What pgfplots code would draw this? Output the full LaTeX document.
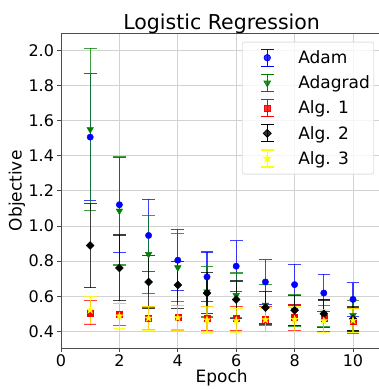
\documentclass[border=0pt]{standalone}
\usepackage{fontspec}
\setmainfont{DejaVu Sans}
\usepackage{pgfplots}
\pgfplotsset{compat=1.18}
\definecolor{mplgreen}{RGB}{0,128,0}
\definecolor{mplblue}{RGB}{0,0,255}
\definecolor{mplred}{RGB}{255,0,0}
\definecolor{mplyellow}{RGB}{255,255,0}
\pgfdeclareplotmark{fstar}{%
  \pgfpathmoveto{\pgfpointpolar{90}{\pgfplotmarksize}}%
  \pgfpathlineto{\pgfpointpolar{126}{0.382\pgfplotmarksize}}%
  \pgfpathlineto{\pgfpointpolar{162}{\pgfplotmarksize}}%
  \pgfpathlineto{\pgfpointpolar{198}{0.382\pgfplotmarksize}}%
  \pgfpathlineto{\pgfpointpolar{234}{\pgfplotmarksize}}%
  \pgfpathlineto{\pgfpointpolar{270}{0.382\pgfplotmarksize}}%
  \pgfpathlineto{\pgfpointpolar{306}{\pgfplotmarksize}}%
  \pgfpathlineto{\pgfpointpolar{342}{0.382\pgfplotmarksize}}%
  \pgfpathlineto{\pgfpointpolar{18}{\pgfplotmarksize}}%
  \pgfpathlineto{\pgfpointpolar{54}{0.382\pgfplotmarksize}}%
  \pgfpathclose
  \pgfusepathqfillstroke
}
\pgfplotsset{
  ser/.style={color=#1,
    error bars/error mark options={rotate=90, mark size=6.3pt, line width=1.2pt, #1, draw=#1},
    error bars/error bar style={line width=1.2pt, #1, draw=#1, opacity=0.75},
    legend image code/.code={
      \path[draw=none,fill=none] (0pt,-12.6pt) rectangle (52pt,12.6pt);
      \draw[draw=#1,line width=1.2pt] (22pt,-8.5pt) -- (22pt,8.5pt) (15.7pt,-8.5pt) -- (28.3pt,-8.5pt) (15.7pt,8.5pt) -- (28.3pt,8.5pt);
      \draw[##1,only marks] plot coordinates {(22pt,0pt)};
    }},
}
\begin{document}
\begin{tikzpicture}
\path[use as bounding box] (-61pt,-41pt) rectangle (318pt,348pt);
\begin{axis}[
  at={(0,0)}, anchor=south west,
  width=321.2pt, height=314.3pt, scale only axis,
  xmin=0, xmax=11, ymin=0.305, ymax=2.095,
  xtick={0,2,4,6,8,10},
  ytick={0.4,0.6,0.8,1.0,1.2,1.4,1.6,1.8,2.0},
  yticklabel style={/pgf/number format/.cd, fixed, fixed zerofill, precision=1},
  /pgf/number format/assume math mode=true,
  tick label style={font=\fontsize{16}{18}\selectfont},
  grid=major, grid style={gray!35, line width=0.8pt},
  axis line style={black!70, line width=0.8pt},
  tick style={black!70, line width=0.8pt},
  tick align=outside, major tick length=3.5pt,
  xtick pos=bottom, ytick pos=left,
  title={Logistic Regression},
  every axis title/.style={font=\fontsize{20.5}{24}\selectfont, at={(axis description cs:0.5,1)}, anchor=base, yshift=4.7pt},
  xlabel={Epoch}, ylabel={Objective},
  every axis x label/.style={at={(axis description cs:0.5,0)}, anchor=center, yshift=-30pt, font=\fontsize{17}{20}\selectfont},
  every axis y label/.style={at={(axis description cs:-0.137,0.5)}, anchor=center, rotate=90, font=\fontsize{17}{20}\selectfont},
  legend style={at={(axis description cs:1,1)}, anchor=north east, xshift=-8pt, yshift=-8pt,
    draw=gray!25, line width=0.8pt, rounded corners=2pt, fill=white, fill opacity=0.8, text opacity=1,
    font=\fontsize{17}{20}\selectfont, inner sep=3pt, row sep=0pt,
    nodes={inner sep=1pt, font=\fontsize{17}{20}\selectfont}},
  legend cell align=left,
  every axis plot/.append style={only marks,
    error bars/y dir=both, error bars/y explicit},
]
\addplot[ser=mplblue, mark=*, mark size=3.2pt] coordinates {
 (1,1.506) +- (0,0.362)
 (2,1.121) +- (0,0.270)
 (3,0.946) +- (0,0.207)
 (4,0.805) +- (0,0.174)
 (5,0.710) +- (0,0.142)
 (6,0.771) +- (0,0.145)
 (7,0.681) +- (0,0.126)
 (8,0.666) +- (0,0.116)
 (9,0.618) +- (0,0.106)
 (10,0.582) +- (0,0.096)
};
\addlegendentry{Adam}
\addplot[ser=mplgreen, mark=triangle*, mark options={rotate=180}, mark size=3.8pt] coordinates {
 (1,1.550) +- (0,0.462)
 (2,1.086) +- (0,0.308)
 (3,0.839) +- (0,0.222)
 (4,0.763) +- (0,0.195)
 (5,0.625) +- (0,0.143)
 (6,0.605) +- (0,0.127)
 (7,0.550) +- (0,0.116)
 (8,0.520) +- (0,0.090)
 (9,0.505) +- (0,0.076)
 (10,0.491) +- (0,0.086)
};
\addlegendentry{Adagrad}
\addplot[ser=mplred, mark=square*, mark size=3pt] coordinates {
 (1,0.506) +- (0,0.068)
 (2,0.496) +- (0,0.063)
 (3,0.474) +- (0,0.065)
 (4,0.478) +- (0,0.070)
 (5,0.472) +- (0,0.068)
 (6,0.474) +- (0,0.068)
 (7,0.470) +- (0,0.070)
 (8,0.480) +- (0,0.075)
 (9,0.472) +- (0,0.074)
 (10,0.460) +- (0,0.072)
};
\addlegendentry{Alg. 1}
\addplot[ser=black, mark=square*, mark options={rotate=45}, mark size=2.8pt] coordinates {
 (1,0.889) +- (0,0.240)
 (2,0.761) +- (0,0.187)
 (3,0.681) +- (0,0.153)
 (4,0.664) +- (0,0.135)
 (5,0.618) +- (0,0.118)
 (6,0.581) +- (0,0.106)
 (7,0.535) +- (0,0.093)
 (8,0.520) +- (0,0.085)
 (9,0.500) +- (0,0.078)
 (10,0.470) +- (0,0.068)
};
\addlegendentry{Alg. 2}
\addplot[ser=mplyellow, mark=fstar, mark size=3.8pt] coordinates {
 (1,0.521) +- (0,0.078)
 (2,0.487) +- (0,0.072)
 (3,0.475) +- (0,0.068)
 (4,0.477) +- (0,0.070)
 (5,0.465) +- (0,0.075)
 (6,0.462) +- (0,0.070)
 (7,0.466) +- (0,0.066)
 (8,0.468) +- (0,0.070)
 (9,0.460) +- (0,0.066)
 (10,0.462) +- (0,0.070)
};
\addlegendentry{Alg. 3}
\end{axis}
\end{tikzpicture}
\end{document}
